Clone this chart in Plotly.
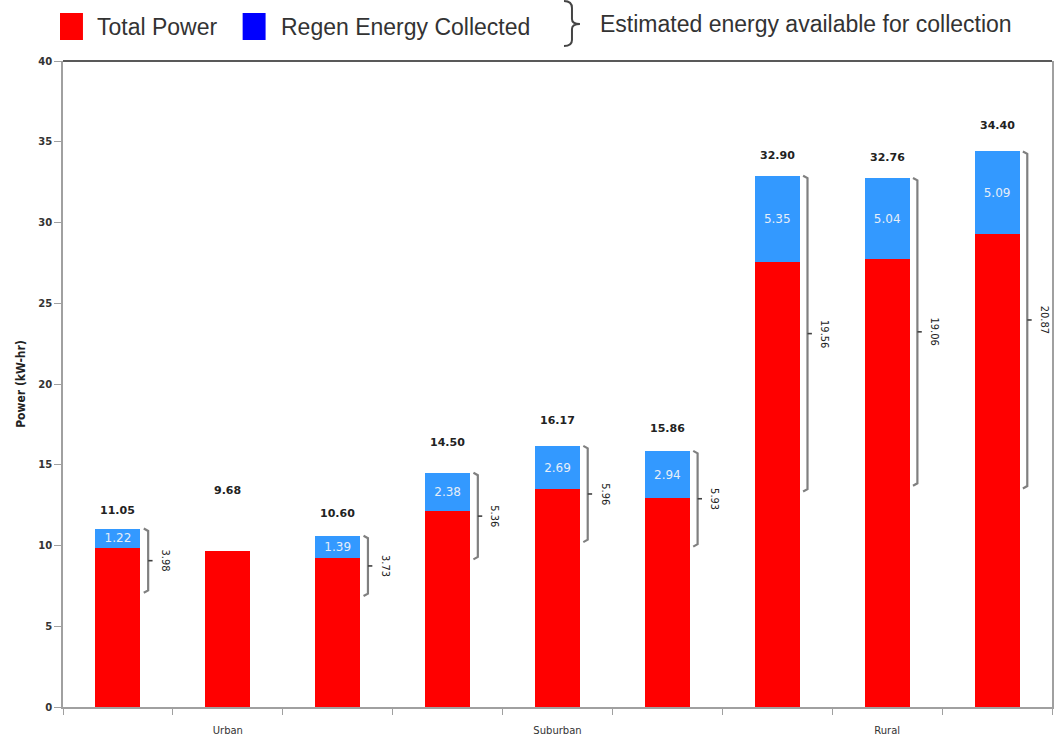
import plotly.graph_objects as go

# ---- data -------------------------------------------------------------
groups = ["Urban", "Suburban", "Rural"]
group_center = [1, 4, 7]                      # middle run of each group
total_power = [11.05, 9.68, 10.60, 14.50, 16.17, 15.86, 32.90, 32.76, 34.40]
regen_collected = [1.22, None, 1.39, 2.38, 2.69, 2.94, 5.35, 5.04, 5.09]
est_available = [3.98, None, 3.73, 5.36, 5.96, 5.93, 19.56, 19.06, 20.87]

# ---- styling ----------------------------------------------------------
RED = "#ff0000"
BAR_BLUE = "#3399ff"
LEGEND_BLUE = "#0000ff"
TEXT = "#333333"
AXIS = "#a0a0a0"
total_label_lift = [18, 60, 22, 30, 25, 22, 20, 20, 26]   # px above bar top

# plot-area pixel frame (page 1056 x 744)
L, R, T, B = 63, 1054, 61, 707
W, H = R - L, B - T


def px(x):
    return (x - L) / W


def py(y):
    return (B - y) / H


runs = list(range(len(total_power)))
base_part = [t - (r or 0) for t, r in zip(total_power, regen_collected)]

fig = go.Figure()

fig.add_trace(go.Bar(
    x=runs, y=base_part, marker=dict(color=RED, line=dict(width=0)),
    name="Total Power", showlegend=False, hoverinfo="skip",
))
fig.add_trace(go.Bar(
    x=runs, y=[r or 0 for r in regen_collected],
    marker=dict(color=BAR_BLUE, line=dict(width=0)),
    text=[f"{r:.2f}" if r else "" for r in regen_collected],
    textposition="inside", insidetextanchor="middle", textangle=0,
    insidetextfont=dict(family="DejaVu Sans", size=12, color="#e6eef8"),
    constraintext="none",
    name="Regen Energy Collected", showlegend=False, hoverinfo="skip",
))

# braces showing the estimated energy available for collection
x_line, x_hook, x_tip, x_text = 0.275, 0.235, 0.315, 0.43
for i, (top, est) in enumerate(zip(total_power, est_available)):
    if est is None:
        continue
    bottom = top - est
    mid = (top + bottom) / 2
    fig.add_trace(go.Scatter(
        x=[i + x_hook, i + x_line, i + x_line, i + x_line, i + x_line, i + x_hook],
        y=[top, top - 0.15, mid, mid, bottom + 0.15, bottom],
        mode="lines", line=dict(color="#808080", width=2.2),
        showlegend=False, hoverinfo="skip",
    ))
    fig.add_trace(go.Scatter(
        x=[i + x_line, i + x_tip], y=[mid, mid],
        mode="lines", line=dict(color="#404040", width=1.6),
        showlegend=False, hoverinfo="skip",
    ))
    fig.add_annotation(
        x=i + x_text, y=mid, text=f"{est:.2f}", textangle=90,
        showarrow=False,
        font=dict(family="DejaVu Sans Condensed", size=11, color="#222222"),
    )

# totals above each bar
for i, (tot, lift) in enumerate(zip(total_power, total_label_lift)):
    fig.add_annotation(
        x=i, y=tot, yshift=lift, text=f"{tot:.2f}", showarrow=False,
        font=dict(family="DejaVu Sans", size=11, color="#222222", weight="bold"),
    )

# dark top border of the plot area
fig.add_shape(type="line", xref="paper", yref="paper", x0=0, x1=1, y0=1, y1=1,
              line=dict(color="#222222", width=1.5))

# ---- legend drawn across the top --------------------------------------
legend_font = dict(family="Liberation Sans", size=23, color=TEXT)
fig.add_shape(type="rect", xref="paper", yref="paper",
              x0=px(60), x1=px(83), y0=py(40), y1=py(13),
              fillcolor=RED, line=dict(width=0))
fig.add_annotation(xref="paper", yref="paper", x=px(95), y=py(27),
                   xanchor="left", yanchor="middle", showarrow=False,
                   text="Total Power", font=legend_font)
fig.add_shape(type="rect", xref="paper", yref="paper",
              x0=px(243), x1=px(266), y0=py(40), y1=py(13),
              fillcolor=LEGEND_BLUE, line=dict(width=0))
fig.add_annotation(xref="paper", yref="paper", x=px(279), y=py(27),
                   xanchor="left", yanchor="middle", showarrow=False,
                   text="Regen Energy Collected", font=legend_font)

# curly brace glyph for the third legend entry
brace_pts = [(565, 1), (573, 1), (573, 8), (573, 19), (573, 24), (581, 24),
             (573, 24), (573, 29), (573, 40), (573, 46), (565, 46)]
P = [(px(x), py(y)) for x, y in brace_pts]
brace_path = (
    f"M {P[0][0]},{P[0][1]} Q {P[1][0]},{P[1][1]} {P[2][0]},{P[2][1]} "
    f"L {P[3][0]},{P[3][1]} Q {P[4][0]},{P[4][1]} {P[5][0]},{P[5][1]} "
    f"Q {P[6][0]},{P[6][1]} {P[7][0]},{P[7][1]} "
    f"L {P[8][0]},{P[8][1]} Q {P[9][0]},{P[9][1]} {P[10][0]},{P[10][1]}"
)
fig.add_shape(type="path", xref="paper", yref="paper", path=brace_path,
              line=dict(color="#444444", width=2))
fig.add_annotation(xref="paper", yref="paper", x=px(599), y=py(24),
                   xanchor="left", yanchor="middle", showarrow=False,
                   text="Estimated energy available for collection",
                   font=legend_font)

fig.update_layout(
    width=1056, height=744,
    margin=dict(l=L, r=1056 - R, t=T, b=744 - B),
    paper_bgcolor="white", plot_bgcolor="white",
    barmode="stack", bargap=0.59,
    showlegend=False,
    xaxis=dict(
        range=[-0.5, len(runs) - 0.5],
        tickmode="array", tickvals=group_center, ticktext=groups,
        ticks="", showgrid=False, zeroline=False,
        showline=True, linecolor=AXIS, linewidth=1.5,
        tickfont=dict(family="DejaVu Sans", size=10, color=TEXT),
        ticklabelstandoff=13,
        minor=dict(tickmode="array", tickvals=[k - 0.5 for k in range(len(runs) + 1)],
                   ticks="outside", ticklen=6, tickcolor=AXIS, tickwidth=1,
                   showgrid=False),
    ),
    yaxis=dict(
        range=[0, 40], dtick=5, ticks="outside", ticklen=7,
        tickcolor=AXIS, showgrid=False, zeroline=False,
        showline=True, linecolor=AXIS, linewidth=1.5, mirror=True,
        tickfont=dict(family="DejaVu Sans", size=10, color=TEXT, weight="bold"),
        title=dict(text="Power (kW-hr)", standoff=10,
                   font=dict(family="DejaVu Sans Condensed", size=12, color="#222222",
                             weight="bold")),
    ),
)

fig.write_html("out.html")
